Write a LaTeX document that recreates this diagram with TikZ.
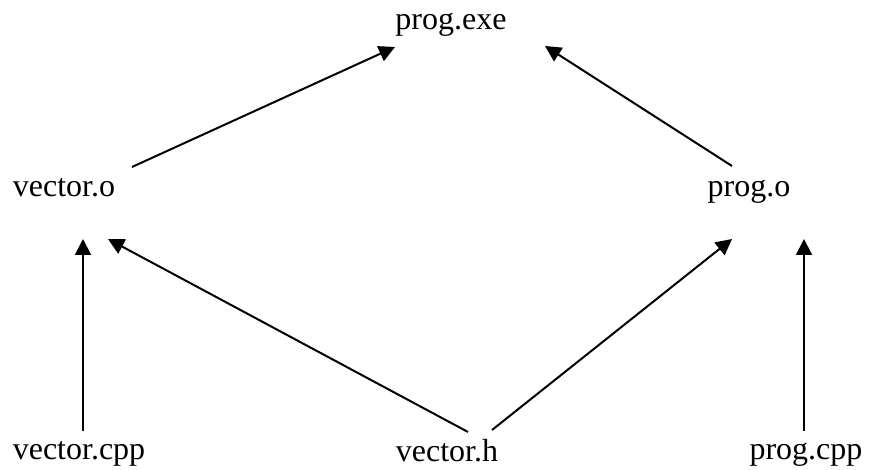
\documentclass[tikz,border=0pt]{standalone}
\usepackage{fontspec}
\setmainfont{Liberation Serif}
\usetikzlibrary{arrows.meta}
\begin{document}
\begin{tikzpicture}[x=1pt,y=1pt,
	file/.style={anchor=base,inner sep=0pt,font=\fontsize{32}{38}\selectfont},
	dep/.style={line width=2pt,-{Triangle[length=16pt,width=16pt]}}]
	\useasboundingbox (0,0) rectangle (872,470);

	% files
	\node[file] (exe) at (451,440) {prog.exe};
	\node[file] (vo) at (64,273) {vector.o};
	\node[file] (po) at (749,273) {prog.o};
	\node[file] (vcpp) at (79,10) {vector.cpp};
	\node[file] (vh) at (447,8) {vector.h};
	\node[file] (pcpp) at (806,10) {prog.cpp};

	% dependencies
	\draw[dep] ([shift={(68,30)}]vo.base) -- ([shift={(-56,-17)}]exe.base);
	\draw[dep] ([shift={(-17,31)}]po.base) -- ([shift={(94,-16)}]exe.base);
	\draw[dep] ([shift={(4,29)}]vcpp.base) -- ([shift={(19,-42)}]vo.base);
	\draw[dep] ([shift={(21,30)}]vh.base) -- ([shift={(44,-42)}]vo.base);
	\draw[dep] ([shift={(45,32)}]vh.base) -- ([shift={(-17,-42)}]po.base);
	\draw[dep] ([shift={(-2,29)}]pcpp.base) -- ([shift={(55,-42)}]po.base);

\end{tikzpicture}
\end{document}
